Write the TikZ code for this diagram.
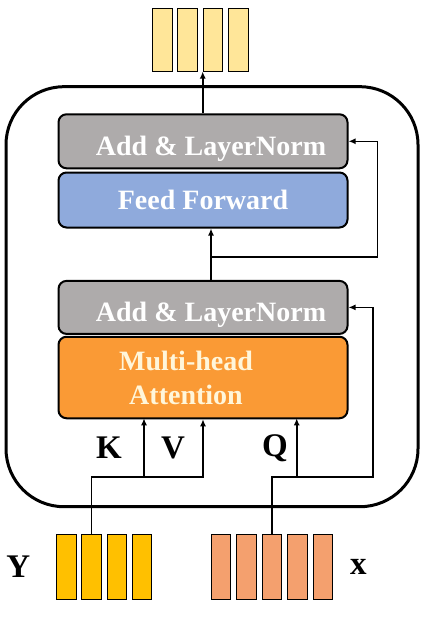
\documentclass[tikz,border=0pt]{standalone}
\usepackage{fontspec}
\setmainfont{Liberation Serif}
\usetikzlibrary{arrows.meta,positioning,calc}

\definecolor{lngray}{HTML}{AEABAB}
\definecolor{ffblue}{HTML}{8FAADC}
\definecolor{mhaorange}{HTML}{FA9A35}
\definecolor{outcell}{HTML}{FFE699}
\definecolor{ycell}{HTML}{FFC000}
\definecolor{xcell}{HTML}{F4A06E}
\definecolor{creamtext}{HTML}{FFF6DA}

\begin{document}
\begin{tikzpicture}[x=1pt, y=-1pt,
    every node/.style={font=\bfseries\fontsize{28}{34}\selectfont},
    block/.style={draw, line width=2pt, rounded corners=8pt, minimum width=289pt, text=white, inner sep=0pt},
    normblock/.style={block, fill=lngray, text height=28pt, text depth=0pt},
    cell/.style={draw, line width=0.9pt, minimum width=19.5pt, minimum height=64pt, inner sep=0pt},
    tag/.style={font=\bfseries\fontsize{33}{36}\selectfont, inner sep=0pt},
    conn/.style={line width=1.6pt},
    arr/.style={conn, -{Latex[length=7pt,width=6pt]}}]
        \useasboundingbox (0,0) rectangle (426,618);

        % outer frame
        \node[draw, line width=3pt, rounded corners=58pt, minimum width=412pt, minimum height=420pt] (frame) at (212,296.7) {};

        % layer blocks
        \node[normblock, minimum height=54pt] (ln2) at (203,141.3) {\hspace*{16pt}Add \& LayerNorm};
        \node[block, fill=ffblue, minimum height=55pt] (ff) at (203,200) {Feed Forward};
        \node[normblock, minimum height=53pt] (ln1) at (203,307.4) {\hspace*{16pt}Add \& LayerNorm};
        \node[block, fill=mhaorange, minimum height=81.5pt, text=creamtext, align=center] (mha) at (203,377.5) {Multi-head\hspace*{34pt}\\Attention\hspace*{34pt}};

        % token cells
        \foreach \i in {1,...,4}
            \node[cell, fill=outcell, minimum height=62.7pt] (out\i) at ({162.3+25.3*(\i-1)},39.7) {};
        \foreach \i in {1,...,4}
            \node[cell, fill=ycell, minimum height=64.7pt] (y\i) at ({66.3+25.2*(\i-1)},566.7) {};
        \foreach \i in {1,...,5}
            \node[cell, fill=xcell, minimum height=64.7pt] (x\i) at ({221+25.5*(\i-1)},566.7) {};

        % labels
        \node[tag] (ylab) at (18.3,566.7) {Y};
        \node[tag] (xlab) at (358.3,566.7) {x};
        \node[tag] (klab) at (109,448) {K};
        \node[tag] (vlab) at (173,448) {V};
        \node[tag] (qlab) at (275,448) {Q};

        \coordinate (fork) at (0,476.7);
        \coordinate (kin) at (144,418.3);
        \coordinate (qin) at (296.7,418.3);
        \coordinate (split) at (211,256.7);

        % inputs
        \draw[arr] (y2.north) |- (mha.south |- fork) -- (mha.south);
        \draw[arr] (kin |- fork) -- (kin);
        \draw[arr] (x3.north) |- ($(ln1.east |- fork)+(24.6,0)$) |- (ln1.east);
        \draw[arr] (qin |- fork) -- (qin);

        % feed forward and residual
        \draw[arr] (ln1.north -| split) -- (ff.south -| split);
        \draw[arr] (split) -| ($(ln2.east)+(29,0)$) -- (ln2.east);

        % output
        \draw[arr] (out3.south west |- ln2.north) -- (out3.south west);
    \end{tikzpicture}
\end{document}
